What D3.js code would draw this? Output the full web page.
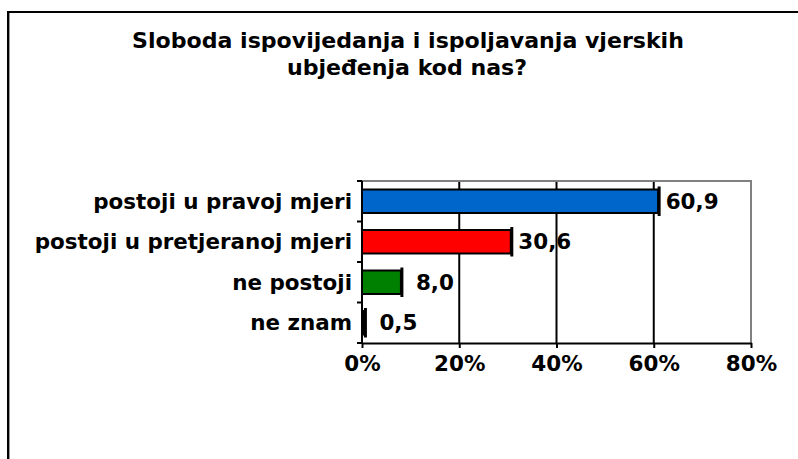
<!DOCTYPE html>
<html>
<head>
<meta charset="utf-8">
<script src="https://cdn.jsdelivr.net/npm/d3@7"></script>
<style>
  html, body { margin: 0; padding: 0; background: #fff; }
  svg { display: block; }
  text { font-family: "DejaVu Sans", Verdana, sans-serif; font-weight: bold; fill: #000; }
</style>
</head>
<body>
<div id="chart"></div>
<script>
// data
const categories = ["postoji u pravoj mjeri", "postoji u pretjeranoj mjeri", "ne postoji", "ne znam"];
const values = [60.9, 30.6, 8.0, 0.5];
const valueLabels = ["60,9", "30,6", "8,0", "0,5"];
const barColors = ["#0066CC", "#FF0000", "#008000", "#000000"];
const xTicks = [0, 20, 40, 60, 80];
const titleLines = ["Sloboda ispovijedanja i ispoljavanja vjerskih", "ubjeđenja kod nas?"];

const width = 798, height = 459;
const plot = { left: 362, right: 751, top: 181, bottom: 343 };

const svg = d3.select("#chart").append("svg")
  .attr("width", width)
  .attr("height", height);

// outer chart frame (runs off the right and bottom of the picture)
svg.append("rect")
  .attr("x", 8).attr("y", 12)
  .attr("width", 820).attr("height", 480)
  .attr("fill", "none")
  .attr("stroke", "#000")
  .attr("stroke-width", 2);
svg.append("line")
  .attr("x1", 9.5).attr("x2", 9.5).attr("y1", 13).attr("y2", height)
  .attr("stroke", "#999").attr("stroke-width", 1);

// title
const title = svg.append("text")
  .attr("text-anchor", "middle")
  .attr("x", 408)
  .attr("y", 48)
  .style("font-size", "19px");
title.text(titleLines[0]);
// fit the font so the first line spans what the picture shows
const titleSize = 19 * 552 / title.node().getComputedTextLength();
title.style("font-size", titleSize + "px");
svg.append("text")
  .attr("text-anchor", "middle")
  .attr("x", 407)
  .attr("y", 75)
  .style("font-size", titleSize + "px")
  .text(titleLines[1]);

const x = d3.scaleLinear().domain([0, 80]).range([plot.left, plot.right]);
const y = d3.scaleBand().domain(categories)
  .range([plot.top, plot.bottom])
  .paddingInner(0.42)
  .paddingOuter(0.21);

// gridlines
svg.append("g").selectAll("line")
  .data(xTicks.slice(1, -1))
  .join("line")
  .attr("x1", d => x(d)).attr("x2", d => x(d))
  .attr("y1", plot.top).attr("y2", plot.bottom)
  .attr("stroke", "#000").attr("stroke-width", 2);

// grey frame of plot area (top + right)
svg.append("path")
  .attr("d", `M${plot.left},${plot.top}H${plot.right}V${plot.bottom}`)
  .attr("fill", "none")
  .attr("stroke", "#808080")
  .attr("stroke-width", 2);

// bars
const bars = svg.append("g").selectAll("g")
  .data(categories)
  .join("g");

bars.append("rect")
  .attr("x", x(0))
  .attr("y", d => y(d))
  .attr("width", (d, i) => x(values[i]) - x(0))
  .attr("height", y.bandwidth())
  .attr("fill", (d, i) => barColors[i])
  .attr("stroke", "#000")
  .attr("stroke-width", 2);

// thick dark edge at the bar end
bars.append("line")
  .attr("x1", (d, i) => x(values[i]) + 1)
  .attr("x2", (d, i) => x(values[i]) + 1)
  .attr("y1", d => y(d) - 3)
  .attr("y2", d => y(d) + y.bandwidth() + 3)
  .attr("stroke", "#000")
  .attr("stroke-width", 3);

// value labels
const labelSize = 16;
bars.append("text")
  .attr("text-anchor", "middle")
  .attr("x", (d, i) => x(values[i]) + 34)
  .attr("y", d => y(d) + y.bandwidth() / 2)
  .attr("dy", "0.36em")
  .style("font-size", labelSize + "px")
  .text((d, i) => valueLabels[i]);

// category labels
const catLabels = svg.append("g").selectAll("text")
  .data(categories)
  .join("text")
  .attr("text-anchor", "end")
  .attr("x", plot.left - 10)
  .attr("y", d => y(d) + y.bandwidth() / 2)
  .attr("dy", "0.36em")
  .style("font-size", labelSize + "px")
  .text(d => d);

const catSize = labelSize * 259 / catLabels.node().getComputedTextLength();
catLabels.style("font-size", catSize + "px");
bars.selectAll("text").style("font-size", catSize + "px");

// y axis line with ticks between categories
svg.append("line")
  .attr("x1", plot.left).attr("x2", plot.left)
  .attr("y1", plot.top).attr("y2", plot.bottom)
  .attr("stroke", "#000").attr("stroke-width", 2);
svg.append("g").selectAll("line")
  .data(d3.range(categories.length + 1))
  .join("line")
  .attr("x1", plot.left - 5).attr("x2", plot.left)
  .attr("y1", i => plot.top + i * y.step())
  .attr("y2", i => plot.top + i * y.step())
  .attr("stroke", "#000").attr("stroke-width", 2);

// x axis
const xAxis = svg.append("g")
  .attr("transform", `translate(0,${plot.bottom})`)
  .call(d3.axisBottom(x).tickValues(xTicks).tickFormat(d => d + "%").tickSize(5).tickPadding(8).tickSizeOuter(0));
xAxis.select(".domain").attr("stroke", "#000").attr("stroke-width", 2);
xAxis.selectAll(".tick line").attr("stroke", "#000").attr("stroke-width", 2);
xAxis.selectAll(".tick text")
  .attr("font-family", null)
  .attr("font-size", null)
  .style("font-size", catSize + "px")
  .attr("fill", "#000");
</script>
</body>
</html>
